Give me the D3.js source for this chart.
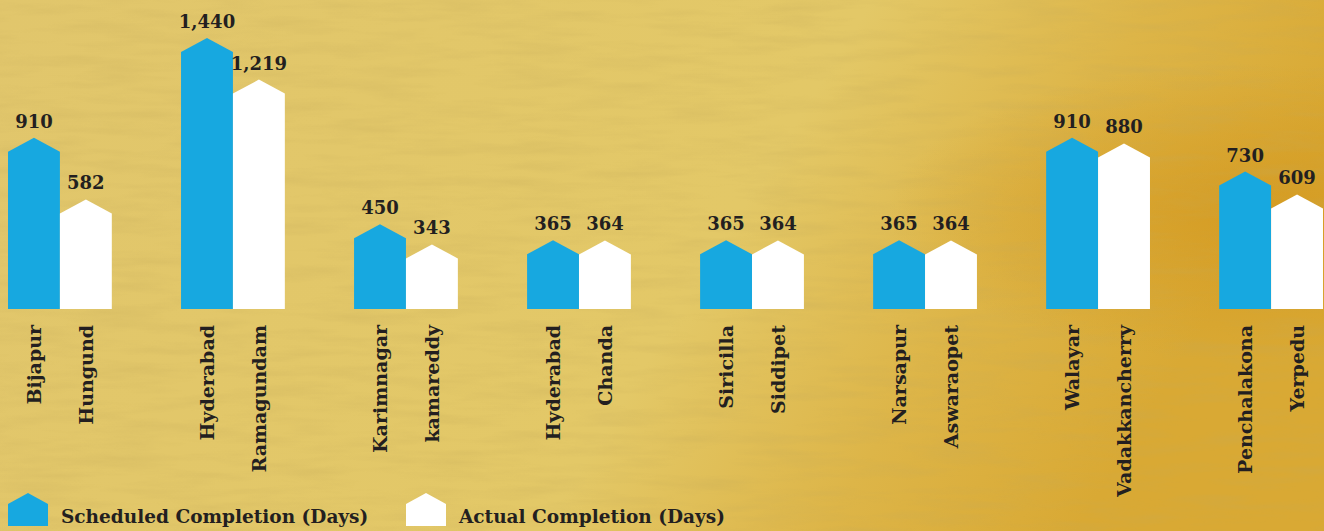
<!DOCTYPE html>
<html>
<head>
<meta charset="utf-8">
<script src="https://cdn.jsdelivr.net/npm/d3@7"></script>
<style>
  html, body { margin: 0; padding: 0; background: #e0c468; }
  svg { display: block; }
  text { font-family: "DejaVu Serif", serif; font-weight: bold; fill: #231f20; }
</style>
</head>
<body>
<div id="chart"></div>
<script>
// values
var scheduledPlaces = ["Bijapur", "Hyderabad", "Karimnagar", "Hyderabad", "Siricilla", "Narsapur", "Walayar", "Penchalakona"];
var actualPlaces = ["Hungund", "Ramagundam", "kamareddy", "Chanda", "Siddipet", "Aswaraopet", "Vadakkancherry", "Yerpedu"];
var scheduledDays = [910, 1440, 450, 365, 365, 365, 910, 730];
var actualDays = [582, 1219, 343, 364, 364, 364, 880, 609];
var seriesNames = ["Scheduled Completion (Days)", "Actual Completion (Days)"];
var seriesColors = ["#17a8e0", "#ffffff"];

var width = 1324, height = 531;
var baseY = 309, roof = 14;

var svg = d3.select("#chart").append("svg")
    .attr("width", width)
    .attr("height", height);

// sandy background
var defs = svg.append("defs");
var bg = defs.append("linearGradient").attr("id", "sand")
    .attr("x1", 0).attr("y1", 0).attr("x2", 1).attr("y2", 0.25);
bg.append("stop").attr("offset", "0%").attr("stop-color", "#e1c66c");
bg.append("stop").attr("offset", "62%").attr("stop-color", "#e3c867");
bg.append("stop").attr("offset", "82%").attr("stop-color", "#ddb548");
bg.append("stop").attr("offset", "100%").attr("stop-color", "#d9a934");

var blob = defs.append("radialGradient").attr("id", "blob")
    .attr("cx", 0.95).attr("cy", 0.4).attr("r", 0.28);
blob.append("stop").attr("offset", "0%").attr("stop-color", "#d4991f").attr("stop-opacity", 0.8);
blob.append("stop").attr("offset", "100%").attr("stop-color", "#d4991f").attr("stop-opacity", 0);

var noise = defs.append("filter").attr("id", "grain")
    .attr("x", 0).attr("y", 0).attr("width", "100%").attr("height", "100%");
noise.append("feTurbulence")
    .attr("type", "fractalNoise")
    .attr("baseFrequency", "0.012 0.09")
    .attr("numOctaves", 4)
    .attr("seed", 7);
noise.append("feColorMatrix")
    .attr("type", "matrix")
    .attr("values", "0 0 0 0 0.55  0 0 0 0 0.40  0 0 0 0 0.10  -1.6 0 0 0 0.95");

svg.append("rect").attr("width", width).attr("height", height).attr("fill", "url(#sand)");
svg.append("rect").attr("width", width).attr("height", height).attr("fill", "url(#blob)");
svg.append("rect").attr("width", width).attr("height", height).attr("filter", "url(#grain)").attr("opacity", 0.3);

// scales
var x0 = d3.scaleBand()
    .domain(d3.range(scheduledDays.length))
    .range([8, 1323])
    .paddingInner(0.4)
    .paddingOuter(0);

var x1 = d3.scaleBand()
    .domain([0, 1])
    .range([0, x0.bandwidth()]);

var y = d3.scaleLinear()
    .domain([0, 1440])
    .range([baseY, 38]);

var fmt = d3.format(",");

var rows = [];
scheduledDays.forEach(function(v, i) {
    rows.push({g: i, s: 0, value: v, place: scheduledPlaces[i]});
    rows.push({g: i, s: 1, value: actualDays[i], place: actualPlaces[i]});
});

function house(x, w, top, bottom, r) {
    return "M" + x + "," + bottom +
        "L" + x + "," + (top + r) +
        "L" + (x + w / 2) + "," + top +
        "L" + (x + w) + "," + (top + r) +
        "L" + (x + w) + "," + bottom + "Z";
}

var bars = svg.append("g").selectAll("g")
    .data(rows)
  .enter().append("g")
    .attr("transform", function(d) { return "translate(" + (x0(d.g) + x1(d.s)) + ",0)"; });

bars.append("path")
    .attr("d", function(d) { return house(0, x1.bandwidth(), y(d.value), baseY, roof); })
    .attr("fill", function(d) { return seriesColors[d.s]; });

bars.append("text")
    .attr("x", x1.bandwidth() / 2)
    .attr("y", function(d) { return y(d.value) - 10; })
    .attr("text-anchor", "middle")
    .style("font-size", "18px")
    .text(function(d) { return fmt(d.value); });

bars.append("text")
    .attr("transform", "translate(" + (x1.bandwidth() / 2) + "," + (baseY + 16) + ") rotate(-90)")
    .attr("text-anchor", "end")
    .attr("dy", "0.35em")
    .style("font-size", "19px")
    .text(function(d) { return d.place; });

// legend
var legend = svg.append("g").selectAll("g")
    .data(seriesNames)
  .enter().append("g")
    .attr("transform", function(d, i) { return "translate(" + (8 + i * 398) + ",493)"; });

legend.append("path")
    .attr("d", house(0, 40, 0, 33, 11))
    .attr("fill", function(d, i) { return seriesColors[i]; });

legend.append("text")
    .attr("x", 53)
    .attr("y", 30)
    .style("font-size", "18.5px")
    .text(function(d) { return d; });
</script>
</body>
</html>
